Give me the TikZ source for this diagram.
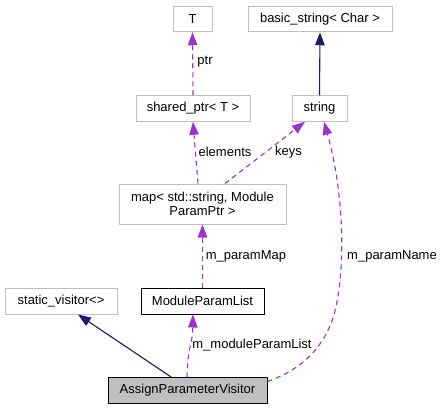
\documentclass[tikz,border=0pt]{standalone}
\usepackage{fontspec}
\setmainfont{Liberation Sans}
\usetikzlibrary{calc,arrows.meta}
\definecolor{boxgray}{HTML}{BFBFBF}
\definecolor{edgepurple}{HTML}{9A32CD}
\definecolor{edgenavy}{HTML}{191970}
\tikzset{
  cls/.style={draw=boxgray, line width=1pt, fill=white, inner sep=0pt, minimum height=25.5pt, align=center, font=\fontsize{13}{15}\selectfont},
  mainbox/.style={cls, draw=black},
  lbl/.style={font=\fontsize{13}{15}\selectfont, inner sep=0pt},
  tip/.style={-{Triangle[length=13pt,width=9.5pt]}},
  uses/.style={tip, draw=edgepurple, line width=1.1pt, dash pattern=on 5pt off 4pt},
  inherit/.style={tip, draw=edgenavy, line width=1.1pt},
}
\begin{document}
\begin{tikzpicture}[x=1pt,y=-1pt]
\useasboundingbox (0,0) rectangle (443,409);
% nodes
\node[cls, minimum width=39pt] (T) at (192.5,19) {T};
\node[cls, minimum width=144pt] (bstr) at (320,19) {basic\_string< Char >};
\node[cls, minimum width=114pt] (sptr) at (193,108.5) {shared\_ptr< T >};
\node[cls, minimum width=55pt] (str) at (319.5,108.5) {string};
\node[cls, minimum width=167pt, minimum height=40pt, font=\fontsize{13}{14.5}\selectfont] (map) at (202.5,204) {map< std::string, Module\\ParamPtr >};
\node[cls, minimum width=112pt, minimum height=26pt] (sv) at (61,301) {static\_visitor<>};
\node[mainbox, minimum width=123pt, minimum height=26pt] (mpl) at (202.5,301) {ModuleParamList};
\node[mainbox, fill=boxgray, minimum width=159pt] (apv) at (187.5,390.5) {AssignParameterVisitor};
% edges
\draw[inherit] (str.north) -- (bstr.south);
\draw[uses] (sptr.north) -- (T.south);
\draw[uses] ($(map.north)+(-4.5,0)$) -- (sptr.south);
\draw[uses] ($(map.north)+(22.5,0)$) -- ($(str.south)+(-14.5,0)$);
\draw[uses] (mpl.north) -- (map.south);
\draw[uses] ($(apv.north)+(-0.5,0)$) .. controls ($(apv.north)+(0,-30)$) and ($(mpl.south)+(-10,30)$) .. ($(mpl.south)+(-9.5,0)$);
\draw[inherit] ($(apv.north)+(-16,0)$) -- ($(sv.south)+(17,0)$);
\draw[uses] ($(apv.east)+(0,-9)$) .. controls (300,370) and (322,350) .. (333,318) .. controls (345,280) and (346,200) .. ($(str.south)+(4.5,0)$);
% labels
\node[lbl] (lptr) at (205,62) {ptr};
\node[lbl] (lel) at (225,152) {elements};
\node[lbl] (lkeys) at (288.5,152) {keys};
\node[lbl] (lpm) at (246,256) {m\_paramMap};
\node[lbl] (lpn) at (392,256) {m\_paramName};
\node[lbl] (lmpl) at (252,345) {m\_moduleParamList};
\end{tikzpicture}
\end{document}
